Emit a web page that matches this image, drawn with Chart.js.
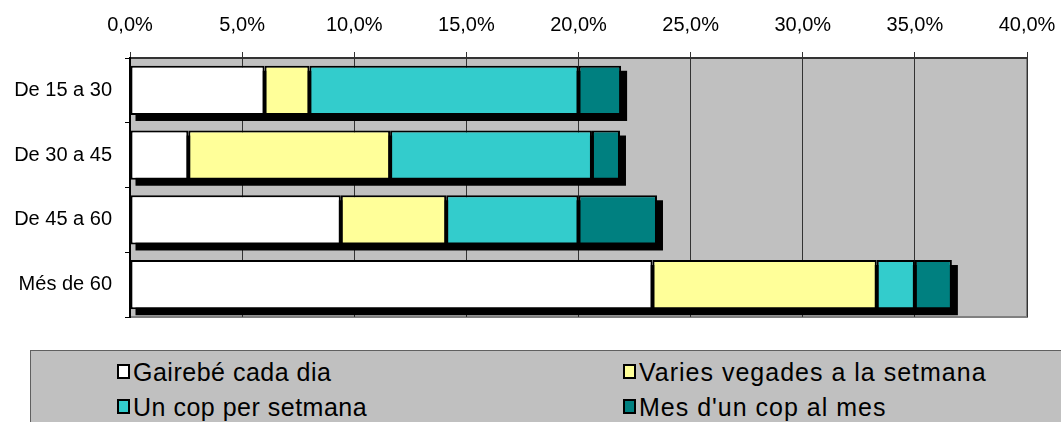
<!DOCTYPE html>
<html>
<head>
<meta charset="utf-8">
<script src="https://cdn.jsdelivr.net/npm/chart.js@4.4.1/dist/chart.umd.min.js"></script>
<style>
  body { margin: 0; background: #fff; font-family: "Liberation Sans", Arial, sans-serif; }
  #wrap { position: relative; width: 1061px; height: 422px; overflow: hidden; }
  #legend {
    position: absolute; left: 30px; top: 350px; width: 1060px; height: 90px;
    background: #c0c0c0; border: 1px solid #606060; box-sizing: border-box;
  }
  .item { position: absolute; font-size: 25px; letter-spacing: 0.5px; color: #000; white-space: nowrap; line-height: 25px; }
  .box { position: absolute; width: 9px; height: 11px; border: 2px solid #000; }
</style>
</head>
<body>
<div id="wrap">
  <canvas id="myChart" width="1061" height="422"></canvas>
  <div id="legend"></div>
</div>
<script>
// data (percent)
const categories = ['De 15 a 30', 'De 30 a 45', 'De 45 a 60', 'Més de 60'];
const seriesNames = ['Gairebé cada dia', 'Varies vegades a la setmana', 'Un cop per setmana', "Mes d'un cop al mes"];
const gairebeCadaDia = [6.0, 2.6, 9.4, 23.3];
const variesVegades = [2.0, 9.0, 4.7, 10.0];
const unCopSetmana = [12.0, 9.0, 5.9, 1.7];
const mesDunCop = [1.9, 1.25, 3.5, 1.65];
const xTickValues = [0, 5, 10, 15, 20, 25, 30, 35, 40];

const colors = ['#ffffff', '#ffff99', '#33cccc', '#008080'];
const allSeries = [gairebeCadaDia, variesVegades, unCopSetmana, mesDunCop];

// grey plot area
const plotBg = {
  id: 'plotBg',
  beforeDraw(chart) {
    const { ctx, chartArea: a } = chart;
    ctx.save();
    ctx.fillStyle = '#c0c0c0';
    ctx.fillRect(a.left, a.top, a.right - a.left, a.bottom - a.top);
    ctx.strokeStyle = '#808080';
    ctx.lineWidth = 2;
    ctx.beginPath();
    ctx.moveTo(a.right, a.top);
    ctx.lineTo(a.right, a.bottom);
    ctx.lineTo(a.left, a.bottom);
    ctx.stroke();
    ctx.restore();
  }
};

// black drop shadow behind each whole stacked bar
const barShadow = {
  id: 'barShadow',
  beforeDatasetsDraw(chart) {
    const { ctx } = chart;
    const first = chart.getDatasetMeta(0).data;
    const last = chart.getDatasetMeta(chart.data.datasets.length - 1).data;
    ctx.save();
    ctx.fillStyle = '#000';
    first.forEach((el, i) => {
      const p0 = el.getProps(['base', 'y', 'height'], true);
      const p1 = last[i].getProps(['x'], true);
      const top = p0.y - p0.height / 2;
      ctx.fillRect(p0.base + 5, top + 5, p1.x - p0.base + 1, p0.height + 1);
    });
    ctx.restore();
  }
};

const ctx = document.getElementById('myChart').getContext('2d');
const myChart = new Chart(ctx, {
  type: 'bar',
  data: {
    labels: categories,
    datasets: allSeries.map((vals, i) => ({
      label: seriesNames[i],
      data: vals,
      backgroundColor: colors[i],
      borderColor: '#000',
      borderWidth: 2,
      borderSkipped: false,
      barPercentage: 0.76,
      categoryPercentage: 1
    }))
  },
  options: {
    indexAxis: 'y',
    responsive: false,
    animation: false,
    devicePixelRatio: 1,
    layout: { padding: { left: 0, right: 34, top: 0, bottom: 105 } },
    plugins: { legend: { display: false }, tooltip: { enabled: false } },
    scales: {
      x: {
        position: 'top',
        stacked: true,
        min: 0,
        max: 40,
        afterBuildTicks: s => { s.ticks = xTickValues.map(v => ({ value: v })); },
        afterFit: s => { s.height = 58; s.paddingLeft = 0; s.paddingRight = 0; },
        ticks: {
          color: '#000',
          padding: 15,
          font: { family: '"Liberation Sans", Arial', size: 20 },
          callback: v => v.toFixed(1).replace('.', ',') + '%'
        },
        grid: { color: '#333', tickLength: 6, lineWidth: 1 },
        border: { color: '#333', width: 2 }
      },
      y: {
        stacked: true,
        afterFit: s => { s.width = 130; s.paddingTop = 0; s.paddingBottom = 0; },
        ticks: {
          color: '#000',
          padding: 13,
          font: { family: '"Liberation Sans", Arial', size: 20 }
        },
        grid: { offset: true, drawOnChartArea: false, tickLength: 5, color: '#000' },
        border: { color: '#000', width: 2 }
      }
    }
  },
  plugins: [plotBg, barShadow]
});

// legend in the grey box under the chart
const legendPos = [[86, 12], [592, 12], [86, 47], [592, 47]];
const legend = document.getElementById('legend');
seriesNames.forEach((name, i) => {
  const box = document.createElement('div');
  box.className = 'box';
  box.style.left = legendPos[i][0] + 'px';
  box.style.top = (legendPos[i][1] + 1) + 'px';
  box.style.background = colors[i];
  legend.appendChild(box);
  const txt = document.createElement('div');
  txt.className = 'item';
  txt.style.left = (legendPos[i][0] + 16) + 'px';
  txt.style.top = (legendPos[i][1] - 3) + 'px';
  if (i % 2 === 1) txt.style.letterSpacing = '1px';
  txt.textContent = name;
  legend.appendChild(txt);
});
</script>
</body>
</html>
